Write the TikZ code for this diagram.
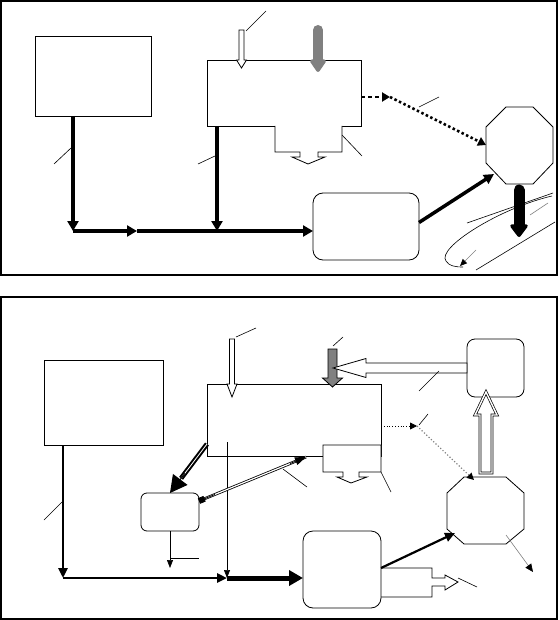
\documentclass[tikz,border=0pt]{standalone}
\usetikzlibrary{arrows.meta,calc,positioning}
% block arrow, vertical: style, x, y start, y head, y tip, half stem, half head
\newcommand{\vblock}[7]{%
  \draw[#1] (#2-#6,#3) -- (#2+#6,#3) -- (#2+#6,#4) -- (#2+#7,#4) -- (#2,#5)
    -- (#2-#7,#4) -- (#2-#6,#4) -- cycle;}
% block arrow, horizontal: style, y, x start, x head, x tip, half stem, half head
\newcommand{\hblock}[7]{%
  \draw[#1] (#3,#2-#6) -- (#3,#2+#6) -- (#4,#2+#6) -- (#4,#2+#7) -- (#5,#2)
    -- (#4,#2-#7) -- (#4,#2-#6) -- cycle;}

\begin{document}
\begin{tikzpicture}[x=1pt,y=-1pt,
  frame/.style={line width=1.2pt},
  outline/.style={line width=0.8pt},
  box/.style={draw,line width=0.8pt,inner sep=0pt,outer sep=0pt},
  rbox/.style={box,rounded corners=10pt},
  flow/.style={line width=3.5pt,-{Triangle[width=11pt,length=10pt]}},
  thinflow/.style={line width=0.7pt,-{Triangle[width=6pt,length=8pt]}},
  leader/.style={line width=0.6pt}]
\useasboundingbox (0,0) rectangle (559,620);

%%% upper panel
\draw[frame] (1,1) rectangle (557,275);
\node[box,minimum width=116pt,minimum height=80pt] (srcA) at (93,76) {};
\node[box,minimum width=154pt,minimum height=66pt] (unitB) at (284,93) {};
\node[rbox,minimum width=106pt,minimum height=67pt] (unitC) at (366,226.5) {};
% octagon
\draw[outline] (506,107) -- (533,107) -- (553,127) -- (553,163) -- (533,184)
  -- (506,184) -- (486,163) -- (486,127) -- cycle;
\coordinate (octAw) at (486,145);
\coordinate (octAsw) at (494,174);
\coordinate (octAs) at (519,190);
% outlet under unit B
\draw[outline,fill=white] (275,126) -- (275,152) -- (300,152) -- (300,157) -- (292,157)
  -- (308,164) -- (325,157) -- (318,157) -- (318,152) -- (342,152) -- (342,126);
% inputs on top of unit B
\vblock{outline,fill=white}{241.5}{30}{60}{68}{2.5}{5}
\draw[gray,line width=10pt,line cap=round,-{Triangle[width=18pt,length=14pt,round]}]
  (318,30) -- (318,72);
% main line
\coordinate (j1) at (73,231);
\coordinate (m1) at (137,231);
\coordinate (j2) at (217,231);
\draw[flow] (srcA.south -| j1) -- (j1);
\draw[flow] (unitB.south -| j2) -- (j2);
\draw[flow] (j1) -- (m1);
\draw[line width=3.5pt] (m1) -- (j2);
\draw[flow] (j2) -- (unitC.west |- j2);
\draw[line width=3.5pt,-{Triangle[width=10pt,length=10pt]}] ([yshift=4pt]unitC.east) -- (octAsw);
% dotted link
\coordinate (d1) at (390,97);
\draw[line width=2.5pt,dash pattern=on 4pt off 3pt,-{Triangle[width=9pt,length=8pt]}]
  ([yshift=-4pt]unitB.east) -- (d1);
\draw[line width=2.5pt,dash pattern=on 2.5pt off 2.5pt,-{Triangle[width=9pt,length=8pt]}]
  (d1) -- (octAw);
% leaders
\foreach \ax/\ay/\bx/\by in {246/31/266/11, 419/107/439/97, 342/135/362/156,
  54/164/71/148, 198/164/215/156}
  \draw[leader] (\ax,\ay) -- (\bx,\by);
% lines round the outlet of the octagon
\draw[leader] (467,223) -- (553,193);
\draw[leader] (552,196) .. controls (500,208) and (436,248) .. (446,261)
  .. controls (449,266) and (455,267) .. (463,267);
\draw[leader] (476,270) -- (555,222);
\draw[leader,gray] (530,215) -- (548,203);
\draw[leader,gray,-{Triangle[width=6pt,length=7pt,color=black]}] (476,250) -- (460,266);
\draw[line width=11pt,line cap=round,-{Triangle[width=20pt,length=14pt,round]}]
  (octAs) -- (519,237);

%%% lower panel
\draw[frame] (1,297) rectangle (557,619);
\node[box,minimum width=119pt,minimum height=85pt] (srcD) at (103.5,402.5) {};
\node[box,minimum width=174pt,minimum height=72pt] (unitE) at (294,420) {};
\node[rbox,rounded corners=8pt,minimum width=57pt,minimum height=58pt] (unitF) at (495.5,368) {};
\node[rbox,minimum width=78pt,minimum height=77pt] (unitG) at (342,569.5) {};
\node[rbox,rounded corners=6pt,minimum width=58pt,minimum height=38pt] (unitH) at (170,512) {};
% octagon
\draw[outline] (464,477) -- (506,477) -- (524,493) -- (524,529) -- (506,544)
  -- (464,544) -- (447,529) -- (447,493) -- cycle;
\coordinate (octBnw) at (474,480);
\coordinate (octBsw) at (455,533);
% outlet of unit E
\draw[outline,fill=white] (323,445) -- (323,472) -- (343,472) -- (343,477) -- (337,477)
  -- (351,483) -- (367,477) -- (359,477) -- (359,472) -- (381,472) -- (381,445) -- cycle;
% outlet of unit G
\draw[outline] (381,568) -- (432,568) -- (432,578) -- (445,578) -- (445,575) -- (458,582)
  -- (445,590) -- (445,586) -- (432,586) -- (432,597) -- (381,597);
% inputs on top of unit E
\vblock{outline,fill=white}{232}{339}{384}{397}{2.5}{5}
\vblock{outline,fill=gray}{332.5}{349}{378}{387}{4.5}{10}
\hblock{outline,fill=white}{368}{467}{366}{333}{5}{9.5}
\vblock{line width=0.7pt,double,double distance=1.4pt,fill=white}{486}{473}{415}{392}{6}{11}
% main line
\coordinate (k1) at (63,578);
\coordinate (k2) at (227,578);
\coordinate (eIn) at (227,442);
\coordinate (hOut) at (170,568);
\draw[line width=2.5pt,-{Triangle[width=9pt,length=10pt]}] (srcD.south -| k1) -- (k1);
\draw[line width=2.5pt,-{Triangle[width=9pt,length=10pt]}] (k1) -- (k2);
\draw[line width=5pt,-{Triangle[width=15pt,length=14pt]}] (k2) -- (unitG.west |- k2);
\draw[thinflow] (eIn) -- (k2);
\draw[thinflow] (unitH.south) -- (hOut);
\draw[line width=2.2pt,-{Triangle[width=9pt,length=10pt]}] ([yshift=1.5pt]unitG.east) -- (octBsw);
% links between unit E and unit H
\coordinate (eOut) at ([yshift=12pt]unitE.south west);
\coordinate (hIn) at ([yshift=11pt]unitH.east);
\coordinate (eBack) at (306,457);
\draw[line width=2pt,double,double distance=0.8pt] (eOut) -- ($(eOut)!0.7!(unitH.north)$);
\draw[line width=1pt,-{Triangle[width=18pt,length=17pt]}] ($(eOut)!0.6!(unitH.north)$) -- (unitH.north);
\draw[line width=0.8pt,double,double distance=1.2pt] (hIn) -- (eBack);
\draw[line width=0.8pt,{Square[length=6pt,width=6pt]}-] (hIn) -- ($(hIn)!0.15!(eBack)$);
\draw[line width=0.8pt,-{Triangle[width=8pt,length=11pt]}] ($(hIn)!0.85!(eBack)$) -- (eBack);
% dotted link
\coordinate (d2) at (417,426);
\draw[line width=0.8pt,dotted,-{Triangle[width=7pt,length=7pt]}] ([yshift=-6pt]unitE.east) -- (d2);
\draw[line width=1.2pt,gray,dotted,-{Triangle[width=7pt,length=7pt,color=black]}] (d2) -- (octBnw);
\draw[leader,gray,-{Triangle[width=7pt,length=8pt,color=black]}] (506,535) -- (533,572);
% leaders
\foreach \ax/\ay/\bx/\by in {236/337/256/328, 333/346/343/337, 419/391/439/371,
  419/425/428/414, 381/472/391/492, 283/469/307/487, 44/520/62/502,
  458/578/477/587, 170/558/199/558}
  \draw[leader] (\ax,\ay) -- (\bx,\by);
\end{tikzpicture}
\end{document}
